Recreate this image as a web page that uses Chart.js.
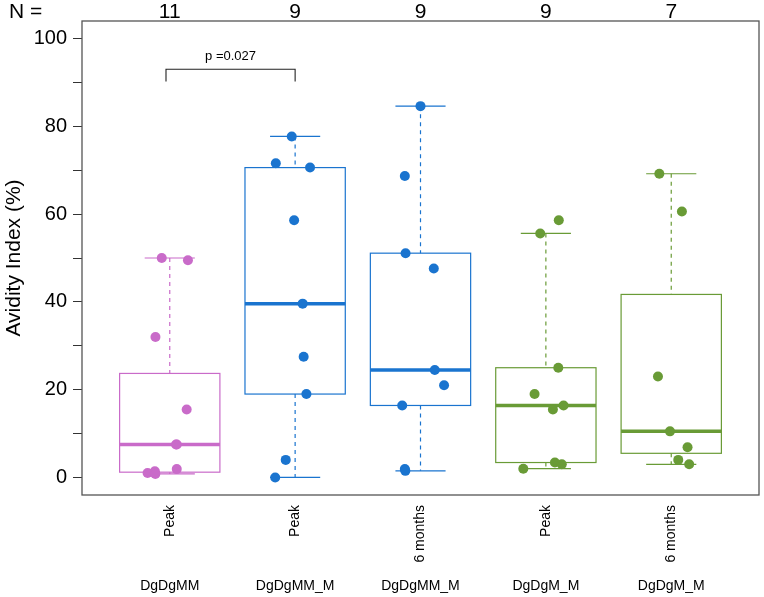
<!DOCTYPE html>
<html>
<head>
<meta charset="utf-8">
<script src="https://cdn.jsdelivr.net/npm/chart.js@4.4.1/dist/chart.umd.min.js"></script>
<style>
  body { margin: 0; background: #fff; }
  canvas { display: block; }
</style>
</head>
<body>
<canvas id="avidity" width="764" height="597"></canvas>
<script>
// groups along the x axis
const groups = ['DgDgMM', 'DgDgMM_M', 'DgDgMM_M', 'DgDgM_M', 'DgDgM_M'];
const timepoints = ['Peak', 'Peak', '6 months', 'Peak', '6 months'];
const counts = [11, 9, 9, 9, 7];
const groupColors = ['#c96bc9', '#1a74cf', '#1a74cf', '#699b36', '#699b36'];

// box statistics: lower whisker, Q1, median, Q3, upper whisker
const whiskerLow = [0.8, 0.0, 1.5, 2.0, 3.0];
const q1 = [1.2, 19.0, 16.4, 3.4, 5.5];
const medians = [7.5, 39.6, 24.5, 16.4, 10.5];
const q3 = [23.7, 70.6, 51.1, 25.0, 41.7];
const whiskerHigh = [50.0, 77.7, 84.6, 55.6, 69.2];

// individual points (value, horizontal jitter)
const values = [
  [50.0, 49.5, 32.0, 15.5, 7.5, 7.5, 1.9, 1.4, 1.0, 1.0, 0.8],
  [77.7, 71.6, 70.6, 58.6, 39.6, 27.5, 19.0, 4.0, 0.0],
  [84.6, 68.7, 51.1, 47.6, 24.5, 21.0, 16.4, 1.9, 1.5],
  [58.6, 55.6, 25.0, 19.0, 16.4, 15.5, 3.4, 3.0, 2.0],
  [69.2, 60.6, 23.0, 10.5, 6.9, 4.0, 3.0]
];
const jitter = [
  [-0.064, 0.145, -0.114, 0.135, 0.056, 0.05, 0.056, -0.119, -0.177, -0.119, -0.115],
  [-0.027, -0.154, 0.119, -0.008, 0.060, 0.068, 0.090, -0.075, -0.159],
  [0.0, -0.125, -0.119, 0.106, 0.114, 0.188, -0.146, -0.125, -0.121],
  [0.103, -0.045, 0.099, -0.090, 0.141, 0.056, 0.072, 0.127, -0.180],
  [-0.095, 0.085, -0.106, -0.010, 0.130, 0.056, 0.143]
];

const yTicks = [0, 10, 20, 30, 40, 50, 60, 70, 80, 90, 100];
const pLabel = 'p =0.027';

const FONT = "'Liberation Sans', Arial, Helvetica, sans-serif";

const datasets = values.map((vals, g) => ({
  label: groups[g] + ' ' + timepoints[g],
  data: vals.map((v, i) => ({ x: g + 1 + jitter[g][i], y: v })),
  backgroundColor: groupColors[g],
  borderColor: groupColors[g],
  pointRadius: 5,
  pointBorderWidth: 0,
  pointHoverRadius: 5
}));

const boxPlugin = {
  id: 'boxes',
  beforeDatasetsDraw(chart) {
    const { ctx, scales: { x, y } } = chart;
    ctx.save();
    for (let g = 0; g < groups.length; g++) {
      const c = g + 1;
      const xl = x.getPixelForValue(c - 0.4), xr = x.getPixelForValue(c + 0.4);
      const cl = x.getPixelForValue(c - 0.2), cr = x.getPixelForValue(c + 0.2);
      const xc = x.getPixelForValue(c);
      ctx.strokeStyle = groupColors[g];
      // whiskers
      ctx.lineWidth = 1.2;
      ctx.setLineDash([4, 4]);
      ctx.beginPath();
      ctx.moveTo(xc, y.getPixelForValue(whiskerHigh[g]));
      ctx.lineTo(xc, y.getPixelForValue(q3[g]));
      ctx.moveTo(xc, y.getPixelForValue(q1[g]));
      ctx.lineTo(xc, y.getPixelForValue(whiskerLow[g]));
      ctx.stroke();
      ctx.setLineDash([]);
      // caps
      ctx.beginPath();
      ctx.moveTo(cl, y.getPixelForValue(whiskerHigh[g]));
      ctx.lineTo(cr, y.getPixelForValue(whiskerHigh[g]));
      ctx.moveTo(cl, y.getPixelForValue(whiskerLow[g]));
      ctx.lineTo(cr, y.getPixelForValue(whiskerLow[g]));
      ctx.stroke();
      // box
      const yt = y.getPixelForValue(q3[g]), yb = y.getPixelForValue(q1[g]);
      ctx.strokeRect(xl, yt, xr - xl, yb - yt);
      // median
      ctx.lineWidth = 3.5;
      ctx.beginPath();
      ctx.moveTo(xl, y.getPixelForValue(medians[g]));
      ctx.lineTo(xr, y.getPixelForValue(medians[g]));
      ctx.stroke();
    }
    ctx.restore();
  },
  afterDraw(chart) {
    const { ctx, chartArea: a, scales: { x, y } } = chart;
    ctx.save();
    // frame
    ctx.strokeStyle = '#555';
    ctx.lineWidth = 1.3;
    ctx.strokeRect(a.left, a.top, a.right - a.left, a.bottom - a.top);

    // N = counts
    ctx.fillStyle = '#000';
    ctx.font = '21px ' + FONT;
    ctx.textBaseline = 'middle';
    ctx.textAlign = 'left';
    ctx.fillText('N =', 9, 12);
    ctx.textAlign = 'center';
    counts.forEach((n, g) => ctx.fillText(String(n), x.getPixelForValue(g + 1), 12));

    // significance bracket
    const bx1 = x.getPixelForValue(0.97), bx2 = x.getPixelForValue(2);
    const by = y.getPixelForValue(93), byd = y.getPixelForValue(90.2);
    ctx.strokeStyle = '#222';
    ctx.lineWidth = 1.1;
    ctx.beginPath();
    ctx.moveTo(bx1, byd);
    ctx.lineTo(bx1, by);
    ctx.lineTo(bx2, by);
    ctx.lineTo(bx2, byd);
    ctx.stroke();
    ctx.font = '13px ' + FONT;
    ctx.textBaseline = 'alphabetic';
    ctx.fillText(pLabel, (bx1 + bx2) / 2, by - 9);

    // x labels: rotated timepoint, horizontal group
    ctx.font = '14px ' + FONT;
    timepoints.forEach((t, g) => {
      const px = x.getPixelForValue(g + 1);
      ctx.save();
      ctx.translate(px, 505);
      ctx.rotate(-Math.PI / 2);
      ctx.textAlign = 'right';
      ctx.textBaseline = 'middle';
      ctx.fillText(t, 0, 0);
      ctx.restore();
    });
    ctx.textAlign = 'center';
    ctx.textBaseline = 'middle';
    groups.forEach((grp, g) => ctx.fillText(grp, x.getPixelForValue(g + 1), 586));
    ctx.restore();
  }
};

new Chart(document.getElementById('avidity').getContext('2d'), {
  type: 'scatter',
  data: { datasets: datasets },
  options: {
    responsive: false,
    animation: false,
    layout: { padding: { top: 21, right: 2, bottom: 102, left: 0 } },
    plugins: {
      legend: { display: false },
      tooltip: { enabled: false }
    },
    scales: {
      x: {
        type: 'linear',
        min: 0.3,
        max: 5.7,
        display: false
      },
      y: {
        min: -4,
        max: 104,
        afterBuildTicks(scale) {
          scale.ticks = yTicks.map(v => ({ value: v }));
        },
        afterFit(scale) {
          scale.width = 82;
        },
        border: { display: false },
        grid: {
          drawOnChartArea: false,
          drawTicks: true,
          tickLength: 9,
          color: '#333',
          lineWidth: 1
        },
        ticks: {
          padding: 6,
          color: '#000',
          font: { family: FONT, size: 20 },
          callback: v => (v % 20 === 0 ? String(v) : '')
        },
        title: {
          display: true,
          text: 'Avidity Index (%)',
          color: '#000',
          font: { family: FONT, size: 21 },
          padding: { top: 2, bottom: 0 }
        }
      }
    }
  },
  plugins: [boxPlugin]
});
</script>
</body>
</html>
